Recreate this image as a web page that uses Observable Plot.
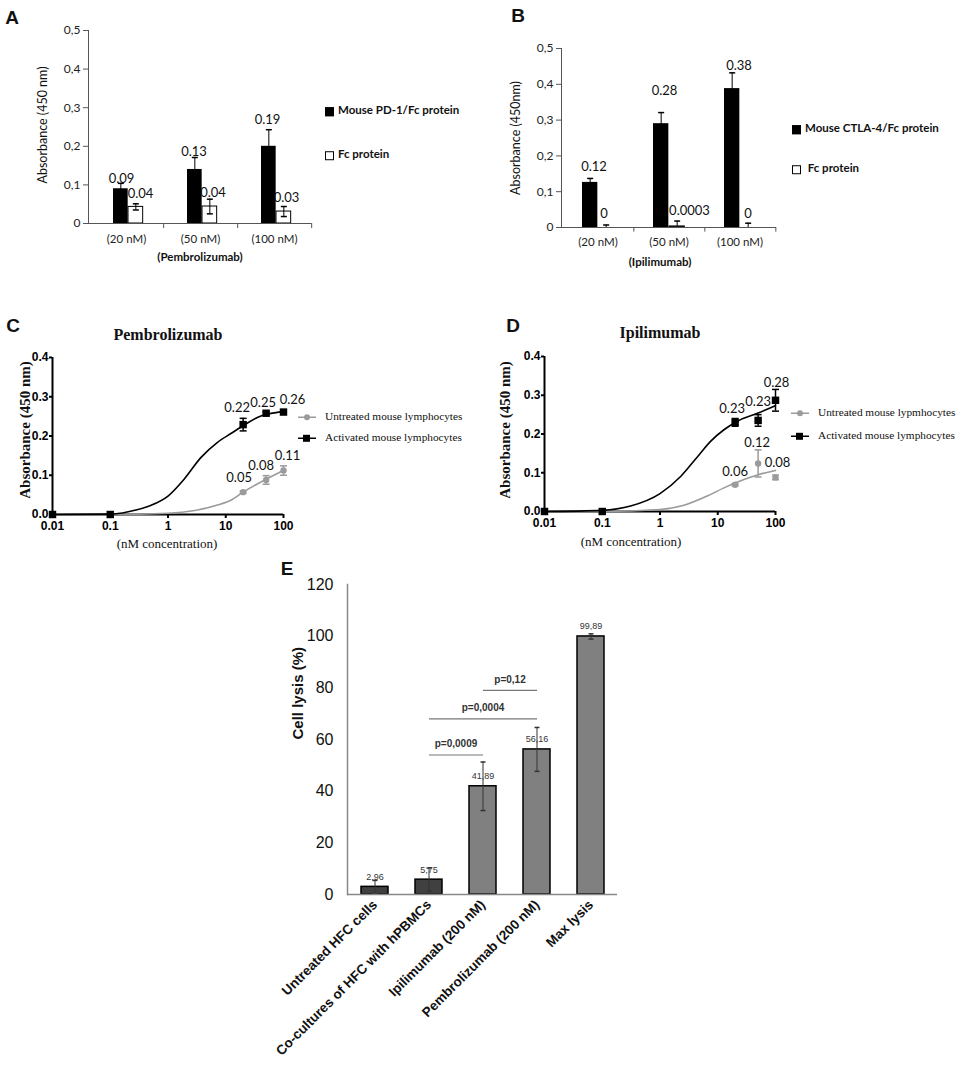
<!DOCTYPE html>
<html><head><meta charset="utf-8">
<script src="https://cdn.jsdelivr.net/npm/d3@7"></script>
<script src="https://cdn.jsdelivr.net/npm/@observablehq/plot@0.6"></script>
<style>
body{margin:0;background:#fff;}
#root{position:relative;width:960px;height:1070px;overflow:hidden;background:#fff;}
.t{position:absolute;white-space:nowrap;line-height:1;color:#111;}
.sw{display:inline-block;vertical-align:middle;}
</style></head><body><div id="root"></div>
<script>
// ---------------- DATA ----------------
// Panel A
const catsA = ["(20 nM)", "(50 nM)", "(100 nM)"];
const pd1Values = [0.09, 0.14, 0.20];
const pd1Err = [0.014, 0.031, 0.043];
const fcValuesA = [0.043, 0.044, 0.031];
const fcErrA = [0.008, 0.019, 0.013];
const pd1Labels = ["0.09", "0.13", "0.19"];
const fcLabelsA = ["0.04", "0.04", "0.03"];
// Panel B
const catsB = ["(20 nM)", "(50 nM)", "(100 nM)"];
const ctlaValues = [0.126, 0.29, 0.388];
const ctlaErr = [0.011, 0.031, 0.044];
const fcValuesB = [0, 0.003, 0];
const fcErrB = [0.007, 0.015, 0.012];
const ctlaLabels = ["0.12", "0.28", "0.38"];
const fcLabelsB = ["0", "0.0003", "0"];
const ticksAB = [0, 0.1, 0.2, 0.3, 0.4, 0.5];
// Panels C & D (points)
const concentrations = [0.01, 0.1, 20, 50, 100];
const activatedC = [0, 0, 0.229, 0.258, 0.261];
const activatedCErr = [0, 0, 0.016, 0.004, 0.003];
const untreatedC = [0, 0, 0.057, 0.088, 0.112];
const untreatedCErr = [0, 0, 0.003, 0.011, 0.012];
const activatedCLabels = [null, null, "0.22", "0.25", "0.26"];
const untreatedCLabels = [null, null, "0.05", "0.08", "0.11"];
const activatedD = [0, 0, 0.23, 0.235, 0.287];
const activatedDErr = [0, 0, 0.01, 0.015, 0.028];
const untreatedD = [0, 0, 0.069, 0.124, 0.088];
const untreatedDErr = [0, 0, 0.003, 0.035, 0.006];
const activatedDLabels = [null, null, "0.23", "0.23", "0.28"];
const untreatedDLabels = [null, null, "0.06", "0.12", "0.08"];
// Fitted curves
const fitCActX = [0.01, 0.1, 0.29, 0.5, 1, 1.9, 3.7, 7.2, 12.5, 20, 36, 54, 100];
const fitCActY = [0, 0.001, 0.012, 0.023, 0.047, 0.09, 0.145, 0.184, 0.207, 0.226, 0.248, 0.256, 0.262];
const fitCUntX = [0.01, 0.1, 1, 2.9, 7.2, 12.5, 20, 50, 100];
const fitCUntY = [0, 0, 0.003, 0.01, 0.024, 0.037, 0.057, 0.09, 0.112];
const fitDActX = [0.01, 0.1, 0.31, 1, 2.3, 4.5, 7.5, 12.8, 22, 50, 100];
const fitDActY = [0, 0.003, 0.014, 0.046, 0.091, 0.142, 0.181, 0.211, 0.233, 0.254, 0.273];
const fitDUntX = [0.01, 0.1, 1, 2.6, 6.6, 12.8, 22, 50, 100];
const fitDUntY = [0, 0, 0.005, 0.016, 0.04, 0.061, 0.076, 0.095, 0.106];
const ticksCDx = [0.01, 0.1, 1, 10, 100];
const ticksCDy = [0, 0.1, 0.2, 0.3, 0.4];
// Panel E
const catsE = ["Untreated HFC cells", "Co-cultures of HFC with hPBMCs", "Ipilimumab (200 nM)", "Pembrolizumab (200 nM)", "Max lysis"];
const groupE = ["control", "control", "treated", "treated", "treated"];
const lysisValues = [2.96, 5.75, 41.89, 56.16, 99.89];
const lysisErr = [2.5, 4.5, 9.4, 8.5, 1];
const lysisLabels = ["2,96", "5,75", "41,89", "56,16", "99,89"];
const ticksE = [0, 20, 40, 60, 80, 100, 120];
const pFrom = [1, 1, 2];
const pTo = [2, 3, 3];
const pLevel = [54, 68, 79];
const pText = ["p=0,0009", "p=0,0004", "p=0,12"];

// ---------------- HELPERS ----------------
const root = document.getElementById("root");
const cap = {draw(ctx, size) { const r = Math.sqrt(size / Math.PI); ctx.moveTo(-r, 0); ctx.lineTo(r, 0); }};
const comma = d => d === 0 ? "0" : d3.format(".1f")(d).replace(".", ",");
function place(svg, left, top) {
  svg.style.position = "absolute"; svg.style.left = left + "px"; svg.style.top = top + "px";
  svg.style.maxWidth = "none"; svg.style.background = "transparent";
  root.appendChild(svg);
}
function txt(html, x, y, css, rotate) {
  const d = document.createElement("div");
  d.className = "t"; d.innerHTML = html;
  d.style.left = x + "px"; d.style.top = y + "px";
  d.style.transform = "translate(-50%,-50%)" + (rotate ? " rotate(" + rotate + "deg)" : "");
  Object.assign(d.style, css);
  root.appendChild(d);
}
function txtL(html, x, y, css) {
  const d = document.createElement("div");
  d.className = "t"; d.innerHTML = html;
  d.style.left = x + "px"; d.style.top = y + "px"; d.style.transform = "translateY(-50%)";
  Object.assign(d.style, css);
  root.appendChild(d);
}
function labels(rows, xk, yk, tk, offsets, opts) {
  return rows.map((r, i) => Plot.text([r], {x: xk, y: yk, text: tk, dx: offsets[i][0], dy: offsets[i][1], ...opts}));
}

// ---------------- PANEL A ----------------
{
  const rows = catsA.map((c, i) => ({c, v: pd1Values[i], e: pd1Err[i], f: fcValuesA[i], fe: fcErrA[i], lp: pd1Labels[i], lf: fcLabelsA[i]}));
  const W = 480, ml = 88, mr = 169, bw = (W - ml - mr) / catsA.length;
  const lab = {fontSize: 13, fontFamily: "Lato, sans-serif", fill: "#111"};
  const svg = Plot.plot({
    width: W, height: 270, marginLeft: ml, marginRight: mr, marginTop: 30, marginBottom: 47,
    style: {fontFamily: "Lato, sans-serif", color: "#222"},
    x: {domain: catsA, padding: 0, axis: null},
    y: {domain: [0, 0.5], axis: null},
    marks: [
      Plot.axisY({ticks: ticksAB, tickFormat: comma, tickSize: 5, tickPadding: 3, fontSize: 12, label: null, stroke: "#555"}),
      Plot.axisX({tickSize: 0, tickPadding: 11, fontSize: 11.5, label: null}),
      Plot.barY(rows, {x: "c", y: "v", fill: "black", insetLeft: 24, insetRight: bw - 39}),
      Plot.barY(rows, {x: "c", y: "f", fill: "white", stroke: "black", strokeWidth: 1, insetLeft: 39, insetRight: bw - 54}),
      Plot.ruleX(rows, {x: "c", y1: d => d.v - d.e, y2: d => d.v + d.e, dx: 31.5 - bw / 2, stroke: "black"}),
      Plot.dot(rows, {x: "c", y: d => d.v + d.e, dx: 31.5 - bw / 2, symbol: cap, r: 3, stroke: "black"}),
      Plot.ruleX(rows, {x: "c", y1: d => d.f - d.fe, y2: d => d.f + d.fe, dx: 46.5 - bw / 2, stroke: "black"}),
      Plot.dot(rows, {x: "c", y: d => d.f + d.fe, dx: 46.5 - bw / 2, symbol: cap, r: 3, stroke: "black"}),
      Plot.dot(rows, {x: "c", y: d => d.f - d.fe, dx: 46.5 - bw / 2, symbol: cap, r: 3, stroke: "black"}),
      Plot.ruleY([0], {stroke: "#555"}),
      Plot.ruleX(catsA, {x: d => d, dx: bw / 2, y1: 0, y2: -0.013, stroke: "#555"}),
      Plot.frame({anchor: "left", stroke: "#555"}),
      ...labels(rows, "c", "v", "lp", [[-5, -10], [-6.5, -18], [-7, -26]], lab),
      ...labels(rows, "c", "f", "lf", [[14, -13], [12.5, -14], [12, -14]], lab)
    ]
  });
  place(svg, 0, 0);
}

// ---------------- PANEL B ----------------
{
  const rows = catsB.map((c, i) => ({c, v: ctlaValues[i], e: ctlaErr[i], f: fcValuesB[i], fe: fcErrB[i], lp: ctlaLabels[i], lf: fcLabelsB[i]}));
  const W = 480, ml = 81, mr = 184, bw = (W - ml - mr) / catsB.length;
  const lab = {fontSize: 13, fontFamily: "Lato, sans-serif", fill: "#111"};
  const svg = Plot.plot({
    width: W, height: 270, marginLeft: ml, marginRight: mr, marginTop: 48, marginBottom: 43,
    style: {fontFamily: "Lato, sans-serif", color: "#222"},
    x: {domain: catsB, padding: 0, axis: null},
    y: {domain: [0, 0.5], axis: null},
    marks: [
      Plot.axisY({ticks: ticksAB, tickFormat: comma, tickSize: 5, tickPadding: 3, fontSize: 12, label: null, stroke: "#555"}),
      Plot.axisX({tickSize: 0, tickPadding: 10, fontSize: 11.5, label: null}),
      Plot.barY(rows, {x: "c", y: "v", fill: "black", insetLeft: 20, insetRight: bw - 36}),
      Plot.barY(rows, {x: "c", y: "f", fill: "white", stroke: "black", strokeWidth: 1, insetLeft: 36, insetRight: bw - 52}),
      Plot.ruleX(rows, {x: "c", y1: d => d.v - d.e, y2: d => d.v + d.e, dx: 28 - bw / 2, stroke: "black"}),
      Plot.dot(rows, {x: "c", y: d => d.v + d.e, dx: 28 - bw / 2, symbol: cap, r: 3, stroke: "black"}),
      Plot.ruleX(rows, {x: "c", y1: d => d.f, y2: d => d.f + d.fe, dx: 44 - bw / 2, stroke: "black"}),
      Plot.dot(rows, {x: "c", y: d => d.f + d.fe, dx: 44 - bw / 2, symbol: cap, r: 3, stroke: "black"}),
      Plot.ruleY([0], {stroke: "#555"}),
      Plot.ruleX(catsB, {x: d => d, dx: bw / 2, y1: 0, y2: -0.013, stroke: "#555"}),
      Plot.frame({anchor: "left", stroke: "#555"}),
      ...labels(rows, "c", "v", "lp", [[-4, -16], [-4.5, -33], [-1, -23]], lab),
      ...labels(rows, "c", "f", "lf", [[6, -14], [20.5, -16], [8, -14]], lab)
    ]
  });
  place(svg, 480, 0);
}

// ---------------- PANELS C & D ----------------
function curvePanel(o) {
  const pts = (vals, errs, labs) => concentrations.map((x, i) => ({x, y: vals[i], e: errs[i], l: labs[i]}));
  const act = pts(o.act, o.actErr, o.actLab), unt = pts(o.unt, o.untErr, o.untLab);
  const fitA = o.fitAX.map((x, i) => ({x, y: o.fitAY[i]}));
  const fitU = o.fitUX.map((x, i) => ({x, y: o.fitUY[i]}));
  const gray = "#9b9b9b";
  const lab = {fontSize: 13, fontFamily: "Lato, sans-serif", fill: "#111"};
  const actL = act.filter(d => d.l), untL = unt.filter(d => d.l);
  return Plot.plot({
    width: 480, height: 290, marginLeft: o.ml, marginRight: o.mr, marginTop: o.mt, marginBottom: o.mb,
    style: {fontFamily: "Liberation Sans, Arial, sans-serif", color: "#000"},
    x: {type: "log", domain: [0.01, 100], axis: null},
    y: {domain: [0, 0.4], axis: null},
    marks: [
      Plot.axisX({ticks: ticksCDx, tickFormat: d => String(d), tickSize: 4, tickPadding: 3, fontSize: 12, fontWeight: "bold", strokeWidth: 2, label: null}),
      Plot.axisY({ticks: ticksCDy, tickFormat: d3.format(".1f"), tickSize: 3, tickPadding: 1, fontSize: 12, fontWeight: "bold", strokeWidth: 2, label: null}),
      Plot.ruleY([0], {strokeWidth: 2}),
      Plot.ruleX([0.01], {y1: 0, y2: 0.4, strokeWidth: 2}),
      Plot.line(fitU, {x: "x", y: "y", stroke: gray, strokeWidth: 1.6, curve: "monotone-x"}),
      Plot.line(fitA, {x: "x", y: "y", stroke: "black", strokeWidth: 1.6, curve: "monotone-x"}),
      Plot.ruleX(unt.filter(d => d.e > 0), {x: "x", y1: d => d.y - d.e, y2: d => d.y + d.e, stroke: gray, strokeWidth: 1.5}),
      Plot.dot(unt.filter(d => d.e > 0), {x: "x", y: d => d.y + d.e, symbol: cap, r: 3.5, stroke: gray, strokeWidth: 1.5}),
      Plot.dot(unt.filter(d => d.e > 0), {x: "x", y: d => d.y - d.e, symbol: cap, r: 3.5, stroke: gray, strokeWidth: 1.5}),
      Plot.dot(unt, {x: "x", y: "y", r: 3.2, fill: gray}),
      Plot.ruleX(act.filter(d => d.e > 0), {x: "x", y1: d => d.y - d.e, y2: d => d.y + d.e, stroke: "black", strokeWidth: 1.5}),
      Plot.dot(act.filter(d => d.e > 0), {x: "x", y: d => d.y + d.e, symbol: cap, r: 3.5, stroke: "black", strokeWidth: 1.5}),
      Plot.dot(act.filter(d => d.e > 0), {x: "x", y: d => d.y - d.e, symbol: cap, r: 3.5, stroke: "black", strokeWidth: 1.5}),
      Plot.dot(act, {x: "x", y: "y", r: 4.2, symbol: "square", fill: "black"}),
      ...labels(actL, "x", "y", "l", o.actOff, lab),
      ...labels(untL, "x", "y", "l", o.untOff, lab)
    ]
  });
}
place(curvePanel({ml: 52, mr: 197, mt: 87, mb: 46,
  act: activatedC, actErr: activatedCErr, actLab: activatedCLabels,
  unt: untreatedC, untErr: untreatedCErr, untLab: untreatedCLabels,
  fitAX: fitCActX, fitAY: fitCActY, fitUX: fitCUntX, fitUY: fitCUntY,
  actOff: [[-6, -17], [-3, -10], [9, -12]], untOff: [[-4, -14], [-5, -14], [4, -15]]}), 0, 270);
place(curvePanel({ml: 64, mr: 185, mt: 86, mb: 49,
  act: activatedD, actErr: activatedDErr, actLab: activatedDLabels,
  unt: untreatedD, untErr: untreatedDErr, untLab: untreatedDLabels,
  fitAX: fitDActX, fitAY: fitDActY, fitUX: fitDUntX, fitUY: fitDUntY,
  actOff: [[-3, -14], [0, -19], [1, -17]], untOff: [[0, -13], [-1, -21], [2, -15]]}), 480, 270);

// ---------------- PANEL E ----------------
{
  const rows = catsE.map((c, i) => ({c, g: groupE[i], v: lysisValues[i], e: lysisErr[i], l: lysisLabels[i]}));
  const W = 500, ml = 147, mr = 83, step = (W - ml - mr) / catsE.length;
  const pMarks = [];
  pFrom.forEach((f, i) => {
    const t = pTo[i], mid = (f + t) / 2, base = Math.floor(mid);
    const row = {a: catsE[f], b: catsE[t], y: pLevel[i], m: catsE[base], s: pText[i]};
    pMarks.push(Plot.link([row], {x1: "a", x2: "b", y1: "y", y2: "y", stroke: "#777", strokeWidth: 1.2}));
    pMarks.push(Plot.text([row], {x: "m", y: "y", text: "s", dx: (mid - base) * step, dy: -11, fontSize: 10, fontWeight: "600", fill: "#333"}));
  });
  const svg = Plot.plot({
    width: W, height: 510, marginLeft: ml, marginRight: mr, marginTop: 24, marginBottom: 176,
    style: {fontFamily: "Liberation Sans, Arial, sans-serif", color: "#111"},
    x: {domain: catsE, paddingInner: 0.5, paddingOuter: 0.25, axis: null},
    y: {domain: [0, 120], axis: null},
    color: {domain: ["control", "treated"], range: ["#404040", "#808080"]},
    marks: [
      Plot.axisY({ticks: ticksE, tickSize: 0, tickPadding: 14, fontSize: 16, label: null}),
      Plot.axisX({tickRotate: -45, tickSize: 0, tickPadding: 8, fontSize: 13.5, fontWeight: "bold", label: null}),
      Plot.text(["Cell lysis (%)"], {frameAnchor: "left", rotate: -90, dx: -49, fontSize: 15, fontWeight: "bold", fill: "#111"}),
      Plot.barY(rows, {x: "c", y: "v", fill: "g", stroke: "black", strokeWidth: 1.5}),
      Plot.ruleX(rows, {x: "c", y1: d => Math.max(0, d.v - d.e), y2: d => d.v + d.e, stroke: "#333", strokeWidth: 1}),
      Plot.dot(rows, {x: "c", y: d => d.v + d.e, symbol: cap, r: 2.5, stroke: "#333"}),
      Plot.dot(rows, {x: "c", y: d => Math.max(0, d.v - d.e), symbol: cap, r: 2.5, stroke: "#333"}),
      Plot.text(rows, {x: "c", y: "v", text: "l", dy: -10, fontSize: 9, fill: "#333"}),
      Plot.ruleY([0], {stroke: "#888", strokeWidth: 1.5}),
      Plot.frame({anchor: "left", stroke: "#888", strokeWidth: 1.5}),
      ...pMarks
    ]
  });
  place(svg, 200, 560);
}

// ---------------- TEXT, TITLES, LEGENDS ----------------
const letter = {fontFamily: "Liberation Sans, Arial", fontWeight: "bold", fontSize: "19px"};
txt("A", 12, 17, letter); txt("B", 518, 15, letter); txt("C", 13, 325, letter); txt("D", 513, 325, letter); txt("E", 287, 568, letter);
const cal = {fontFamily: "Lato, sans-serif", fontSize: "12.5px"};
txt("Absorbance (450 nm)", 43, 125, cal, -90);
txt("Absorbance (450nm)", 516, 138, cal, -90);
const calB = {fontFamily: "Lato, sans-serif", fontSize: "11.5px", fontWeight: "bold"};
txt("(Pembrolizumab)", 200, 257, calB);
txt("(Ipilimumab)", 660, 262, calB);
const sq = (fill) => `<span class="sw" style="width:7px;height:7px;background:${fill};border:1px solid #000;margin-right:4px;"></span>`;
txtL(sq("#000") + "Mouse PD-1/Fc protein", 325, 110, calB);
txtL(sq("#fff") + "Fc protein", 325, 154, calB);
txtL(sq("#000") + "Mouse CTLA-4/Fc protein", 792, 128, calB);
txtL(sq("#fff") + "&nbsp;Fc protein", 792, 168, calB);
const serifB = {fontFamily: "Liberation Serif, Times New Roman, serif", fontWeight: "bold", fontSize: "16px"};
txt("Pembrolizumab", 168, 335, serifB);
txt("Ipilimumab", 660, 333, serifB);
const serifY = {fontFamily: "Liberation Serif, Times New Roman, serif", fontWeight: "bold", fontSize: "15px"};
txt("Absorbance (450 nm)", 25, 430, serifY, -90);
txt("Absorbance (450 nm)", 505, 430, serifY, -90);
const serif = {fontFamily: "Liberation Serif, Times New Roman, serif", fontSize: "13px"};
txt("(nM concentration)", 167, 543, serif);
txt("(nM concentration)", 631, 541, serif);
const serifLeg = {fontFamily: "Liberation Serif, Times New Roman, serif", fontSize: "11.3px"};
const swLine = (c, shape) => `<svg class="sw" width="18" height="10" style="margin-right:9px"><line x1="0" y1="5" x2="18" y2="5" stroke="${c}" stroke-width="1.6"/>` +
  (shape === "sq" ? `<rect x="5" y="1.5" width="7" height="7" fill="${c}"/>` : `<circle cx="9" cy="5" r="3" fill="${c}"/>`) + `</svg>`;
txtL(swLine("#9b9b9b", "c") + "Untreated mouse lymphocytes", 298, 417, serifLeg);
txtL(swLine("#000", "sq") + "Activated mouse lymphocytes", 298, 438, serifLeg);
txtL(swLine("#9b9b9b", "c") + "Untreated mouse lypmhocytes", 791, 413, serifLeg);
txtL(swLine("#000", "sq") + "Activated mouse lymphocytes", 791, 436, serifLeg);
</script></body></html>
